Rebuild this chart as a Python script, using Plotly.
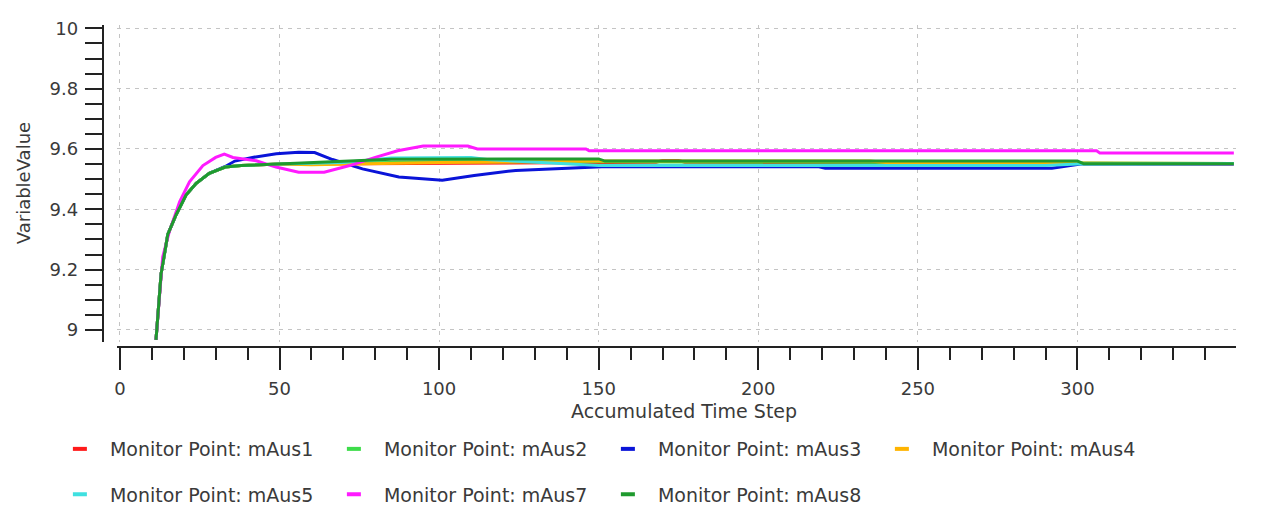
import plotly.graph_objects as go

# ---- data ----
rise_x = [11.3, 12.9, 15.0, 17.6, 20.7, 23.9, 28.0, 33.0, 38.0, 45.0, 50.0]
rise_y = [8.967, 9.186, 9.317, 9.382, 9.447, 9.486, 9.519, 9.540, 9.545, 9.548, 9.550]

m1_x = rise_x + [60, 150, 168, 170, 175, 177, 349]
m1_y = rise_y + [9.550, 9.556, 9.556, 9.562, 9.562, 9.556, 9.551]

m2_x = rise_x + [70, 100, 150, 200, 300, 349]
m2_y = rise_y + [9.553, 9.558, 9.558, 9.556, 9.553, 9.552]

m3_x = [11.3, 12.9, 15.0, 17.6, 20.7, 23.9, 28.0, 33.0, 36.0, 41.5, 49.0, 56.0, 61.0,
        66.6, 76.0, 87.4, 101.0, 111.0, 124.0, 140.0, 151.0, 219.0, 221.0, 292.0, 301.0, 349.0]
m3_y = [8.967, 9.186, 9.317, 9.382, 9.447, 9.486, 9.519, 9.542, 9.560, 9.572, 9.584, 9.589, 9.588,
        9.565, 9.534, 9.507, 9.496, 9.512, 9.529, 9.535, 9.541, 9.541, 9.536, 9.536, 9.550, 9.550]

m4_x = rise_x + [60, 100, 150, 235, 240, 349]
m4_y = rise_y + [9.548, 9.555, 9.560, 9.560, 9.555, 9.552]

m5_x = rise_x + [70, 85, 110, 115, 150, 260, 290, 300, 349]
m5_y = rise_y + [9.555, 9.570, 9.572, 9.565, 9.545, 9.545, 9.545, 9.550, 9.552]

m7_x = [11.3, 13.4, 15.5, 18.7, 21.8, 26.0, 30.0, 32.7, 35.4, 38.4, 42.7, 48.9, 56.0, 64.0,
        72.0, 80.0, 87.0, 95.0, 109.0, 112.0, 146.0, 147.0, 306.0, 307.0, 349.0]
m7_y = [8.967, 9.242, 9.327, 9.425, 9.491, 9.545, 9.572, 9.583, 9.572, 9.568, 9.561, 9.540, 9.523, 9.523,
        9.545, 9.572, 9.594, 9.610, 9.610, 9.600, 9.600, 9.594, 9.594, 9.587, 9.587]

m8_x = rise_x + [60, 75, 85, 150, 152, 300, 302, 349]
m8_y = rise_y + [9.553, 9.560, 9.566, 9.567, 9.560, 9.560, 9.551, 9.551]

names = ["Monitor Point: mAus1", "Monitor Point: mAus2", "Monitor Point: mAus3",
         "Monitor Point: mAus4", "Monitor Point: mAus5", "Monitor Point: mAus7",
         "Monitor Point: mAus8"]
xs = [m1_x, m2_x, m3_x, m4_x, m5_x, m7_x, m8_x]
ys = [m1_y, m2_y, m3_y, m4_y, m5_y, m7_y, m8_y]
colors = ["#ff1a1a", "#3ddc4a", "#0a14d8", "#ffb400", "#3fe0e0", "#ff1aff", "#1f9a2e"]

W, H = 1263, 514
FONT = "DejaVu Sans"
TXT = "#3a3a3a"

fig = go.Figure()
for x, y, c in zip(xs, ys, colors):
    fig.add_trace(go.Scatter(x=x, y=y, mode="lines", line=dict(color=c, width=3),
                             showlegend=False, hoverinfo="skip"))

# legend entries (short dash symbols), two rows
for i, (n, c) in enumerate(zip(names, colors)):
    fig.add_trace(go.Scatter(x=[None], y=[None], mode="markers", name=n,
                             marker=dict(symbol="line-ew-open", size=10, color=c,
                                         line=dict(color=c, width=4)),
                             legend="legend" if i < 4 else "legend2"))

grid = dict(showgrid=True, gridcolor="#c4c4c4", griddash="4px,5px", gridwidth=1)
tickfont = dict(family=FONT, size=18, color=TXT)

leg_common = dict(orientation="h", xanchor="left", yanchor="middle",
                  entrywidth=209, entrywidthmode="pixels", itemwidth=50,
                  font=dict(family=FONT, size=19, color=TXT), bgcolor="rgba(0,0,0,0)")

fig.update_layout(
    width=W, height=H, autosize=False,
    margin=dict(l=0, r=0, t=0, b=0),
    paper_bgcolor="white", plot_bgcolor="white",
    xaxis=dict(domain=[114 / W, 1236 / W], range=[-1.0, 349.7], anchor="free",
               position=1 - 344 / H, showline=True, linecolor="#222", linewidth=2,
               ticks="outside", ticklen=22, tickwidth=2, tickcolor="#222",
               dtick=50, tick0=0, tickfont=tickfont, zeroline=False, ticklabelstandoff=4,
               minor=dict(dtick=10, ticks="outside", ticklen=12, tickwidth=2,
                          tickcolor="#222", showgrid=False),
               **grid),
    yaxis=dict(domain=[1 - 339.3 / H, 1 - 17.6 / H], range=[8.96, 10.01], anchor="free",
               position=100 / W, showline=True, linecolor="#222", linewidth=2,
               ticks="outside", ticklen=17, tickwidth=2, tickcolor="#222",
               tickfont=tickfont, zeroline=False, ticklabelstandoff=3,
               tickvals=[9, 9.2, 9.4, 9.6, 9.8, 10], ticktext=["9", "9.2", "9.4", "9.6", "9.8", "10"],
               minor=dict(dtick=0.05, tick0=9, ticks="outside", ticklen=17, tickwidth=2,
                          tickcolor="#222", showgrid=False),
               **grid),
    legend=dict(x=47 / W, y=1 - 448 / H, **leg_common),
    legend2=dict(x=47 / W, y=1 - 494 / H, **leg_common),
    annotations=[
        dict(text="Accumulated Time Step", x=683 / W, y=1 - 409 / H, xref="paper", yref="paper",
             showarrow=False, xanchor="center", yanchor="middle",
             font=dict(family=FONT, size=19, color=TXT)),
        dict(text="VariableValue", x=20 / W, y=1 - 178 / H, xref="paper", yref="paper",
             showarrow=False, xanchor="center", yanchor="middle", textangle=-90,
             font=dict(family=FONT, size=18, color=TXT)),
    ],
)

fig.write_html("out.html")
